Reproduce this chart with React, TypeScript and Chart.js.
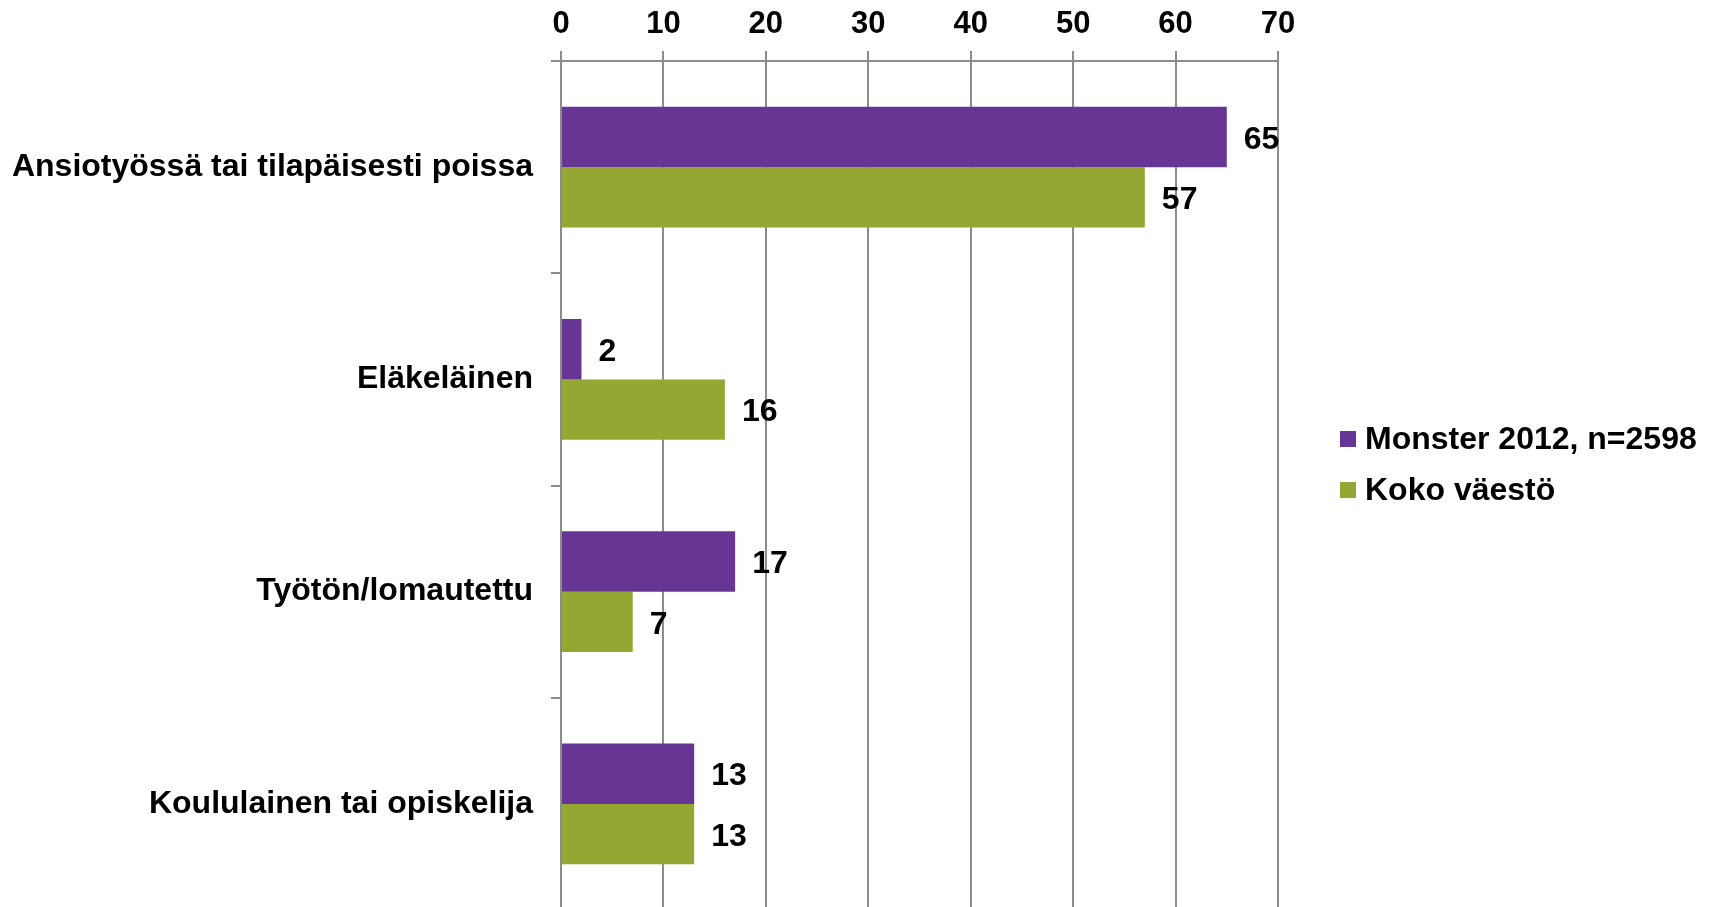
import React, { useEffect, useRef } from "react";
import { Chart, registerables } from "chart.js";

Chart.register(...registerables);

const categories = [
  "Ansiotyössä tai tilapäisesti poissa",
  "Eläkeläinen",
  "Työtön/lomautettu",
  "Koululainen tai opiskelija",
];
const monsterValues = [65, 2, 17, 13];
const kokoValues = [57, 16, 7, 13];
const seriesNames = ["Monster 2012, n=2598", "Koko väestö"];
const seriesColors = ["#673695", "#94A733"];
const axisMin = 0;
const axisMax = 70;
const axisStep = 10;

const FONT = "'Liberation Sans', Arial, sans-serif";

const valueLabels = {
  id: "valueLabels",
  afterDatasetsDraw(chart: any) {
    const ctx = chart.ctx;
    ctx.save();
    ctx.font = `bold 32px ${FONT}`;
    ctx.fillStyle = "#000";
    ctx.textAlign = "left";
    ctx.textBaseline = "middle";
    chart.data.datasets.forEach((ds: any, di: number) => {
      const meta = chart.getDatasetMeta(di);
      meta.data.forEach((el: any, i: number) => {
        ctx.fillText(String(ds.data[i]), el.x + 17, el.y + 3);
      });
    });
    ctx.restore();
  },
};

const customLegend = {
  id: "customLegend",
  afterDraw(chart: any) {
    const ctx = chart.ctx;
    ctx.save();
    ctx.font = `bold 32px ${FONT}`;
    ctx.textAlign = "left";
    ctx.textBaseline = "middle";
    chart.data.datasets.forEach((ds: any, i: number) => {
      const cy = 439 + i * 51;
      ctx.fillStyle = ds.backgroundColor;
      ctx.fillRect(1340, cy - 8, 16, 16);
      ctx.fillStyle = "#000";
      ctx.fillText(ds.label, 1365, cy + 1);
    });
    ctx.restore();
  },
};

export default function App() {
  const ref = useRef<HTMLCanvasElement | null>(null);
  useEffect(() => {
    if (!ref.current) return;
    const chart = new Chart(ref.current, {
      type: "bar",
      data: {
        labels: categories,
        datasets: [
          { label: seriesNames[0], data: monsterValues, backgroundColor: seriesColors[0] },
          { label: seriesNames[1], data: kokoValues, backgroundColor: seriesColors[1] },
        ],
      },
      options: {
        indexAxis: "y",
        responsive: false,
        animation: false,
        layout: { padding: { left: 0, right: 437, top: 0, bottom: 0 } },
        datasets: { bar: { categoryPercentage: 0.57, barPercentage: 1.0 } },
        plugins: { legend: { display: false }, tooltip: { enabled: false } },
        scales: {
          x: {
            position: "top",
            min: axisMin,
            max: axisMax,
            ticks: {
              stepSize: axisStep,
              color: "#000",
              font: { family: FONT, weight: "bold", size: 31 },
              padding: 8,
            },
            grid: { color: "#8c8c8c", lineWidth: 2, tickLength: 10 },
            border: { color: "#8c8c8c", width: 2 },
            afterFit: (scale: any) => {
              scale.height = 61;
              scale.paddingLeft = 0;
              scale.paddingRight = 0;
            },
          },
          y: {
            ticks: {
              color: "#000",
              font: { family: FONT, weight: "bold", size: 32 },
              padding: 18,
            },
            grid: {
              offset: true,
              drawOnChartArea: false,
              color: "#8c8c8c",
              lineWidth: 2,
              tickLength: 10,
            },
            border: { color: "#8c8c8c", width: 2 },
            afterFit: (scale: any) => {
              scale.width = 561;
              scale.paddingTop = 0;
              scale.paddingBottom = 0;
            },
          },
        },
      },
      plugins: [valueLabels, customLegend],
    } as any);
    return () => chart.destroy();
  }, []);
  return (
    <div
      style={{
        position: "absolute",
        left: 0,
        top: 0,
        width: 1715,
        height: 907,
        overflow: "hidden",
        background: "#fff",
      }}
    >
      <canvas ref={ref} width={1715} height={910} style={{ display: "block" }} />
    </div>
  );
}
